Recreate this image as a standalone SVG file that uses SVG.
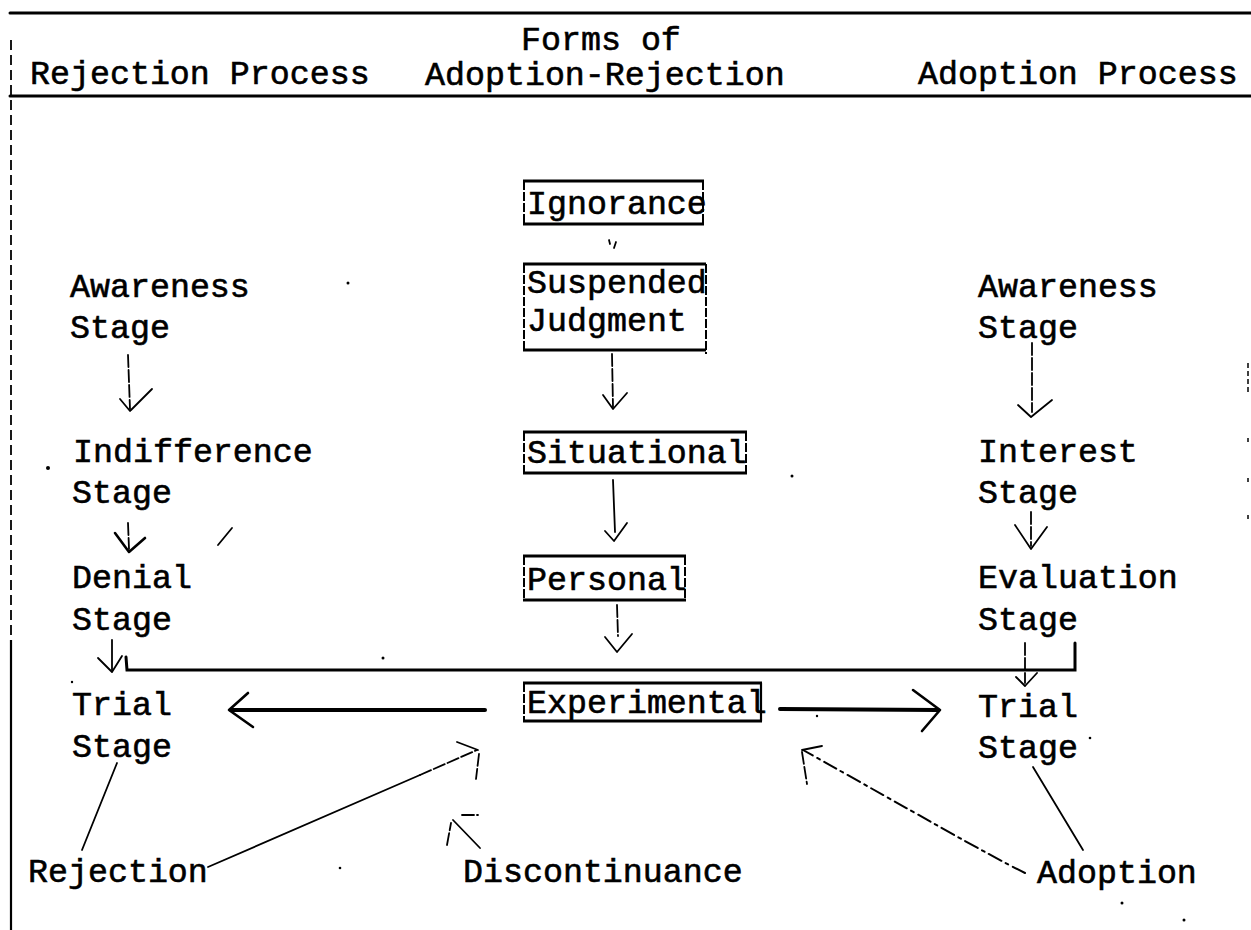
<svg xmlns="http://www.w3.org/2000/svg" width="1251" height="930" viewBox="0 0 1251 930">
<style>
.t{font-family:"Liberation Mono","Courier New",monospace;font-size:33.3px;fill:#000;stroke:#000;stroke-width:0.6}
.rule{stroke:#000;stroke-width:3;fill:none;stroke-linecap:round}
.bt{stroke:#000;stroke-width:3.2;fill:none}
.bs{stroke:#000;stroke-width:2;fill:none;stroke-dasharray:9 2}
.ln{stroke:#000;stroke-width:1.8;fill:none;stroke-linecap:round;stroke-linejoin:round}
.dl{stroke:#000;stroke-width:1.8;fill:none;stroke-dasharray:12 3;stroke-linecap:round}
.dd{stroke:#000;stroke-width:2;fill:none;stroke-dasharray:14 5 3 5;stroke-linecap:round}
.big{stroke:#000;stroke-width:4;fill:none;stroke-linecap:round}
.hd{stroke:#000;stroke-width:2.6;fill:none;stroke-linecap:round;stroke-linejoin:round}
.sp{fill:#000}
</style>
<rect width="1251" height="930" fill="#fff"/>

<g id="header">
  <line class="rule" x1="10" y1="13" x2="1251" y2="13"/>
  <line class="rule" x1="10" y1="96" x2="1251" y2="96"/>
  <line x1="11" y1="40" x2="11" y2="640" stroke="#000" stroke-width="1.8" stroke-dasharray="10 5"/>
  <line x1="11" y1="640" x2="11" y2="930" stroke="#000" stroke-width="2.2"/>
  <text class="t" x="30" y="84">Rejection Process</text>
  <text class="t" x="521" y="50">Forms of</text>
  <text class="t" x="425" y="85">Adoption-Rejection</text>
  <text class="t" x="918" y="84">Adoption Process</text>
</g>

<!-- Rejection process column -->
<g id="rej-awareness"><text class="t" x="70" y="297">Awareness</text><text class="t" x="70" y="338">Stage</text></g>
<g id="rej-indifference"><text class="t" x="73" y="462">Indifference</text><text class="t" x="72" y="503">Stage</text></g>
<g id="rej-denial"><text class="t" x="72" y="588">Denial</text><text class="t" x="72" y="630">Stage</text></g>
<g id="rej-trial"><text class="t" x="72" y="715">Trial</text><text class="t" x="72" y="757">Stage</text></g>
<g id="rejection"><text class="t" x="28" y="882">Rejection</text></g>

<!-- Forms column -->
<g id="ignorance">
  <line class="bt" x1="523" y1="181" x2="704" y2="181"/>
  <line class="bt" x1="523" y1="224" x2="704" y2="224"/>
  <line class="bs" x1="524" y1="181" x2="524" y2="224"/>
  <line class="bs" x1="703" y1="181" x2="703" y2="224"/>
  <text class="t" x="527" y="214">Ignorance</text>
</g>
<g id="suspended-judgment">
  <line class="bt" x1="523" y1="264" x2="706" y2="264"/>
  <line class="bt" x1="523" y1="350" x2="706" y2="350"/>
  <line class="bs" x1="524" y1="264" x2="524" y2="350"/>
  <line class="bs" x1="706" y1="264" x2="706" y2="354"/>
  <text class="t" x="527" y="293">Suspended</text>
  <text class="t" x="527" y="331">Judgment</text>
</g>
<g id="situational">
  <line class="bt" x1="523" y1="432" x2="747" y2="432"/>
  <line class="bt" x1="523" y1="473" x2="747" y2="473"/>
  <line class="bs" x1="524" y1="432" x2="524" y2="473"/>
  <line class="bs" x1="746" y1="432" x2="746" y2="473"/>
  <text class="t" x="527" y="463">Situational</text>
</g>
<g id="personal">
  <line class="bt" x1="523" y1="556" x2="686" y2="556"/>
  <line class="bt" x1="523" y1="600" x2="686" y2="600"/>
  <line class="bs" x1="524" y1="556" x2="524" y2="600"/>
  <line class="bs" x1="685" y1="556" x2="685" y2="600"/>
  <text class="t" x="527" y="590">Personal</text>
</g>
<g id="experimental">
  <line class="bt" x1="523" y1="683" x2="762" y2="683"/>
  <line class="bt" x1="523" y1="721" x2="762" y2="721"/>
  <line class="bs" x1="524" y1="683" x2="524" y2="721"/>
  <line class="ln" x1="761" y1="683" x2="761" y2="721" style="stroke-width:2.2"/>
  <text class="t" x="527" y="713">Experimental</text>
</g>
<g id="discontinuance"><text class="t" x="463" y="882">Discontinuance</text></g>

<!-- Adoption process column -->
<g id="adp-awareness"><text class="t" x="978" y="297">Awareness</text><text class="t" x="978" y="338">Stage</text></g>
<g id="adp-interest"><text class="t" x="978" y="462">Interest</text><text class="t" x="978" y="503">Stage</text></g>
<g id="adp-evaluation"><text class="t" x="978" y="588">Evaluation</text><text class="t" x="978" y="630">Stage</text></g>
<g id="adp-trial"><text class="t" x="978" y="717">Trial</text><text class="t" x="978" y="758">Stage</text></g>
<g id="adoption"><text class="t" x="1037" y="883">Adoption</text></g>

<g id="connectors">
  <!-- left column -->
  <line class="dl" x1="128" y1="355" x2="130" y2="409"/>
  <path class="ln" d="M120,399 L130,411 M131,410 L152,389"/>
  <line class="dl" x1="128" y1="523" x2="129" y2="549"/>
  <path class="hd" d="M115,533 L129,552 L145,538"/>
  <line class="ln" x1="112" y1="640" x2="112" y2="670"/>
  <path class="ln" d="M98,658 L112,672 L122,656"/>
  <!-- horizontal bar -->
  <path class="rule" d="M126,657 L127,670 L1075,670 L1075,643"/>
  <!-- center column -->
  <path class="ln" d="M609,240 L610,244 M616,242 L614,248"/>
  <line class="dl" x1="612" y1="354" x2="613" y2="407"/>
  <path class="ln" d="M603,395 L613,409 L627,393"/>
  <line class="ln" x1="613" y1="480" x2="615" y2="532"/>
  <path class="ln" d="M605,531 L614,541 L627,523"/>
  <line class="dl" x1="617" y1="605" x2="618" y2="636"/>
  <path class="ln" d="M605,637 L617,652 L632,634"/>
  <!-- right column -->
  <line class="dl" x1="1032" y1="343" x2="1032" y2="412"/>
  <path class="ln" d="M1018,405 L1031,417 L1052,400"/>
  <line class="dl" x1="1031" y1="512" x2="1031" y2="546"/>
  <path class="ln" d="M1015,525 L1031,549 L1047,527"/>
  <line class="dl" x1="1025" y1="643" x2="1025" y2="683"/>
  <path class="ln" d="M1016,677 L1025,686 L1037,673"/>
  <!-- experimental to trial stages -->
  <line class="big" x1="485" y1="710" x2="231" y2="710"/>
  <path class="hd" d="M248,693 L229,710 L253,727"/>
  <line class="big" x1="780" y1="709" x2="938" y2="710"/>
  <path class="hd" d="M913,690 L940,710 L922,731"/>
  <!-- trial stage to outcomes -->
  <line class="ln" x1="117" y1="763" x2="82" y2="850"/>
  <line class="ln" x1="1033" y1="767" x2="1083" y2="850"/>
  <!-- rejection back to experimental -->
  <line class="ln" x1="208" y1="867" x2="420" y2="775"/>
  <line class="dl" x1="420" y1="775" x2="477" y2="750"/>
  <path class="ln" d="M457,742 L478,750"/>
  <line class="dl" x1="479" y1="754" x2="476" y2="779"/>
  <!-- discontinuance -->
  <line class="ln" x1="480" y1="848" x2="453" y2="820"/>
  <line class="dl" x1="447" y1="845" x2="451" y2="823"/>
  <line class="dl" x1="462" y1="815" x2="478" y2="815"/>
  <!-- adoption back to experimental -->
  <path class="dd" d="M1025,873 Q995,858 940,827 T803,750"/>
  <path class="ln" d="M822,746 L802,750"/>
  <line class="dl" x1="802" y1="752" x2="807" y2="784"/>
</g>

<g id="specks">
  <circle class="sp" cx="348" cy="283" r="1.5"/>
  <circle class="sp" cx="48" cy="468" r="2"/>
  <path class="ln" d="M218,545 L232,528"/>
  <circle class="sp" cx="383" cy="658" r="1.5"/>
  <circle class="sp" cx="792" cy="476" r="1.5"/>
  <circle class="sp" cx="72" cy="682" r="1.2"/>
  <circle class="sp" cx="817" cy="716" r="1.2"/>
  <circle class="sp" cx="1090" cy="738" r="1.3"/>
  <circle class="sp" cx="340" cy="868" r="1.3"/>
  <circle class="sp" cx="1122" cy="903" r="1.5"/>
  <circle class="sp" cx="1184" cy="920" r="1.5"/>
  <line x1="1248" y1="363" x2="1248" y2="393" stroke="#000" stroke-width="1.5" stroke-dasharray="5 3"/>
  <line x1="1248" y1="438" x2="1248" y2="442" stroke="#000" stroke-width="1.5"/>
  <line x1="1248" y1="478" x2="1248" y2="482" stroke="#000" stroke-width="1.5"/>
  <line x1="1248" y1="515" x2="1248" y2="519" stroke="#000" stroke-width="1.5"/>
</g>
</svg>
